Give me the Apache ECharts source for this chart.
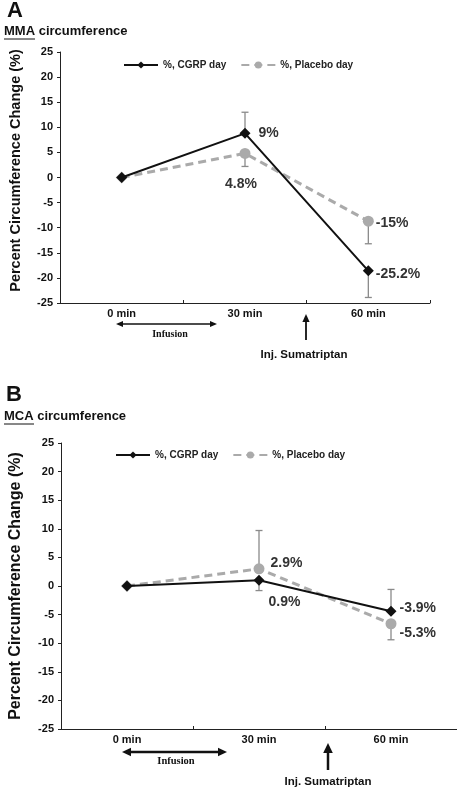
<!DOCTYPE html>
<html>
<head>
<meta charset="utf-8">
<script src="https://cdn.jsdelivr.net/npm/echarts@6/dist/echarts.min.js"></script>
<style>
html,body{margin:0;padding:0;background:#fff;}
#main{width:457px;height:791px;}
</style>
</head>
<body>
<div id="main"></div>
<script>
// ---- data ----
const categories = ['0 min', '30 min', '60 min'];
const yTicks = [-25, -20, -15, -10, -5, 0, 5, 10, 15, 20, 25];

const mmaCgrp = [0, 8.8, -18.6];
const mmaPlacebo = [0, 4.8, -8.7];
const mmaCgrpErr = [null, 13, -23.9];
const mmaPlaceboErr = [null, 2.2, -13.2];
const mmaCgrpLabels = ['', '9%', '-25.2%'];
const mmaPlaceboLabels = ['', '4.8%', '-15%'];

const mcaCgrp = [0, 1.0, -4.4];
const mcaPlacebo = [0, 3.0, -6.6];
const mcaCgrpErr = [null, -0.8, -0.6];
const mcaPlaceboErr = [null, 9.7, -9.4];
const mcaCgrpLabels = ['', '0.9%', '-3.9%'];
const mcaPlaceboLabels = ['', '2.9%', '-5.3%'];

const nameCgrp = '%, CGRP day';
const namePlacebo = '%, Placebo day';

// ---- styling ----
const FONT = '"Liberation Sans", Arial, sans-serif';
const SERIF = '"Liberation Serif", "Times New Roman", serif';
const CGRP_COLOR = '#111111';
const PLACEBO_COLOR = '#aaaaaa';
const ERR_COLOR = '#8a8a8a';

const chart = echarts.init(document.getElementById('main'));

function errRender(params, api) {
  const p = api.coord([api.value(0), api.value(1)]);
  const e = api.coord([api.value(0), api.value(2)]);
  const st = { stroke: ERR_COLOR, lineWidth: 1.3 };
  return {
    type: 'group',
    children: [
      { type: 'line', shape: { x1: p[0], y1: p[1], x2: e[0], y2: e[1] }, style: st },
      { type: 'line', shape: { x1: e[0] - 3.5, y1: e[1], x2: e[0] + 3.5, y2: e[1] }, style: st }
    ]
  };
}

function errData(vals, errs) {
  const out = [];
  errs.forEach((e, i) => { if (e !== null) out.push([i, vals[i], e]); });
  return out;
}

function lineData(vals, labels, labelCfg, firstSymbol) {
  return vals.map((v, i) => {
    const item = { value: v };
    if (labels[i]) {
      item.label = Object.assign({ show: true, formatter: labels[i] }, labelCfg[i] || {});
    }
    if (i === 0 && firstSymbol) { item.symbol = firstSymbol; item.symbolSize = 12; }
    return item;
  });
}

const labelStyle = { fontFamily: FONT, fontSize: 14, fontWeight: 'bold', color: '#333' };

const labCfgA_cgrp = [null, { position: 'right', distance: 8, offset: [0, 0] }, { position: 'right', distance: 2, offset: [0, 3] }];
const labCfgA_plac = [null, { position: 'bottom', distance: 18, offset: [-4, 0] }, { position: 'right', distance: 2, offset: [0, 2] }];
const labCfgB_cgrp = [null, { position: 'right', distance: 4, offset: [0, 22] }, { position: 'right', distance: 3, offset: [0, -3] }];
const labCfgB_plac = [null, { position: 'right', distance: 6, offset: [0, -6] }, { position: 'right', distance: 3, offset: [0, 9] }];

function yAxis(gridIndex, nameSize, namePad) {
  return {
    type: 'value', gridIndex: gridIndex, min: yTicks[0], max: yTicks[yTicks.length - 1], interval: 5,
    name: 'Percent Circumference Change (%)', nameLocation: 'middle', nameGap: 37,
    nameTextStyle: { fontFamily: FONT, fontSize: nameSize, fontWeight: 'bold', color: '#111', padding: namePad },
    axisLine: { show: true, onZero: false, lineStyle: { color: '#222', width: 1 } },
    axisTick: { show: true, length: 3, lineStyle: { color: '#222' } },
    axisLabel: { fontFamily: FONT, fontSize: 11, fontWeight: 'bold', color: '#111', margin: 7 },
    splitLine: { show: false }
  };
}

function xAxis(gridIndex) {
  return {
    type: 'category', gridIndex: gridIndex, data: categories, boundaryGap: true,
    axisLine: { show: true, onZero: false, lineStyle: { color: '#222', width: 1 } },
    axisTick: { show: true, inside: true, length: 3, lineStyle: { color: '#222' } },
    axisLabel: { fontFamily: FONT, fontSize: 11, fontWeight: 'bold', color: '#111', margin: 5 }
  };
}

function legend(left, top) {
  return {
    left: left, top: top, itemWidth: 34, itemHeight: 9, itemGap: 14,
    data: [nameCgrp, namePlacebo],
    textStyle: { fontFamily: FONT, fontSize: 10, fontWeight: 'bold', color: '#222' }
  };
}

function panelSeries(idx, cg, pl, cgErr, plErr, cgLab, plLab, cgCfg, plCfg) {
  return [
    {
      type: 'custom', name: 'errC' + idx, xAxisIndex: idx, yAxisIndex: idx, z: 1,
      renderItem: errRender, data: errData(cg, cgErr), silent: true
    },
    {
      type: 'custom', name: 'errP' + idx, xAxisIndex: idx, yAxisIndex: idx, z: 1,
      renderItem: errRender, data: errData(pl, plErr), silent: true
    },
    {
      type: 'line', name: namePlacebo, xAxisIndex: idx, yAxisIndex: idx, z: 3,
      symbol: 'circle', symbolSize: 11,
      lineStyle: { color: PLACEBO_COLOR, width: 3, type: [8, 5] },
      itemStyle: { color: PLACEBO_COLOR },
      label: labelStyle,
      data: lineData(pl, plLab, plCfg, 'diamond')
    },
    {
      type: 'line', name: nameCgrp, xAxisIndex: idx, yAxisIndex: idx, z: 4,
      symbol: 'diamond', symbolSize: 11,
      lineStyle: { color: CGRP_COLOR, width: 2 },
      itemStyle: { color: CGRP_COLOR },
      label: labelStyle,
      data: lineData(cg, cgLab, cgCfg, null)
    }
  ];
}

function arrowH(x1, x2, y, w, head) {
  return [
    { type: 'line', shape: { x1: x1 + head, y1: y, x2: x2 - head, y2: y }, style: { stroke: '#111', lineWidth: w } },
    { type: 'polygon', shape: { points: [[x1, y], [x1 + head + 2, y - head * 0.6], [x1 + head + 2, y + head * 0.6]] }, style: { fill: '#111' } },
    { type: 'polygon', shape: { points: [[x2, y], [x2 - head - 2, y - head * 0.6], [x2 - head - 2, y + head * 0.6]] }, style: { fill: '#111' } }
  ];
}
function arrowUp(x, yTop, yBot, w, head) {
  return [
    { type: 'line', shape: { x1: x, y1: yTop + head, x2: x, y2: yBot }, style: { stroke: '#111', lineWidth: w } },
    { type: 'polygon', shape: { points: [[x, yTop], [x - head * 0.6, yTop + head + 2], [x + head * 0.6, yTop + head + 2]] }, style: { fill: '#111' } }
  ];
}
function txt(x, y, s, size, weight, family, align) {
  return { type: 'text', x: x, y: y, style: { text: s, fontSize: size, fontWeight: weight, fontFamily: family, fill: '#111', align: align || 'left', verticalAlign: 'middle' } };
}

const graphics = [].concat(
  [txt(7, 11, 'A', 22, 'bold', FONT)],
  [txt(4, 31, 'MMA circumference', 13, 'bold', FONT)],
  [{ type: 'line', shape: { x1: 4, y1: 39, x2: 35, y2: 39 }, style: { stroke: '#111', lineWidth: 1 } }],
  arrowH(116, 217, 324, 1.5, 5),
  [txt(170, 334, 'Infusion', 10, 'bold', SERIF, 'center')],
  arrowUp(306, 314, 340, 1.8, 6),
  [txt(304, 355, 'Inj. Sumatriptan', 11.5, 'bold', FONT, 'center')],

  [txt(6, 395, 'B', 22, 'bold', FONT)],
  [txt(4, 416, 'MCA circumference', 13, 'bold', FONT)],
  [{ type: 'line', shape: { x1: 4, y1: 424, x2: 34, y2: 424 }, style: { stroke: '#111', lineWidth: 1 } }],
  arrowH(122, 227, 752, 2.5, 7),
  [txt(176, 761, 'Infusion', 10.5, 'bold', SERIF, 'center')],
  arrowUp(328, 743, 770, 2.5, 8),
  [txt(328, 782, 'Inj. Sumatriptan', 11.5, 'bold', FONT, 'center')]
);

const option = {
  backgroundColor: '#ffffff',
  animation: false,
  grid: [
    { left: 58, top: 52, width: 372, height: 251 },
    { left: 58, top: 443, width: 405, height: 286 }
  ],
  xAxis: [xAxis(0), xAxis(1)],
  yAxis: [yAxis(0, 14.5, [0, 0, 0, 14]), yAxis(1, 16, 0)],
  legend: [legend(118, 55), legend(110, 445)],
  series: [].concat(
    panelSeries(0, mmaCgrp, mmaPlacebo, mmaCgrpErr, mmaPlaceboErr, mmaCgrpLabels, mmaPlaceboLabels, labCfgA_cgrp, labCfgA_plac),
    panelSeries(1, mcaCgrp, mcaPlacebo, mcaCgrpErr, mcaPlaceboErr, mcaCgrpLabels, mcaPlaceboLabels, labCfgB_cgrp, labCfgB_plac)
  ),
  graphic: graphics
};
chart.setOption(option);
</script>
</body>
</html>
